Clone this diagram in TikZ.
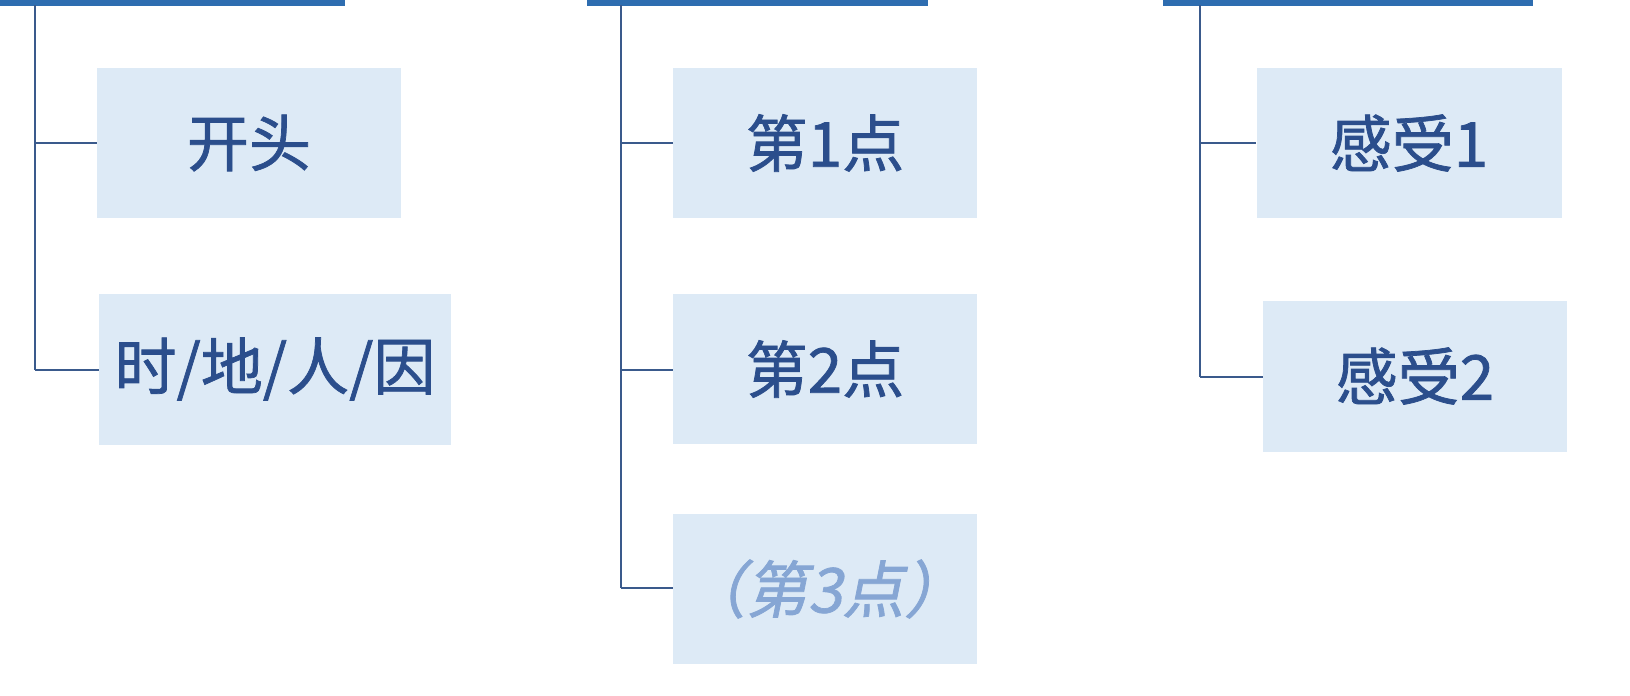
\documentclass[tikz,border=0pt]{standalone}
\usepackage{fontspec}
\newfontfamily\cjk[FakeBold=1.2]{Noto Sans CJK SC}
\newfontfamily\cjksl[FakeSlant=0.2,FakeBold=1.2]{Noto Sans CJK SC}
\definecolor{bar}{HTML}{2E6DB0}
\definecolor{boxf}{HTML}{DDEAF6}
\definecolor{txt}{HTML}{2B4E8C}
\definecolor{ln}{HTML}{3A5A8C}
\definecolor{lt}{HTML}{86A6D4}
\tikzset{
 bx/.style={fill=boxf,draw=none,inner sep=0pt,font=\cjk\fontsize{31}{34}\selectfont,text=txt},
 br/.style={draw=ln,line width=1.2pt},
 topbar/.style={draw=bar,line width=3.5pt}
}
\begin{document}
\begin{tikzpicture}[x=0.5pt,y=-0.5pt]
\useasboundingbox (0,0) rectangle (1630,696);
% top bars
\coordinate (b1l) at (0,2); \coordinate (b1r) at (345,2);
\coordinate (b2l) at (587,2); \coordinate (b2r) at (928,2);
\coordinate (b3l) at (1163,2); \coordinate (b3r) at (1533,2);
\draw[topbar] (b1l)--(b1r); \draw[topbar] (b2l)--(b2r); \draw[topbar] (b3l)--(b3r);
% boxes
\node[bx,minimum width=152pt,minimum height=75pt] (a1) at (249,143) {开头};
\node[bx,minimum width=176pt,minimum height=75.5pt] (a2) at (275,369) {时/地/人/因};
\node[bx,minimum width=152pt,minimum height=75pt] (m1) at (825,143) {第1点};
\node[bx,minimum width=152pt,minimum height=75pt] (m2) at (825,369) {第2点};
\node[bx,minimum width=152pt,minimum height=75pt,text=lt,font=\cjksl\fontsize{31}{34}\selectfont] (m3) at (825,589) {（第3点）};
\node[bx,minimum width=152.5pt,minimum height=75pt] (r1) at (1409,143) {感受1};
\node[bx,minimum width=152pt,minimum height=75.5pt] (r2) at (1415,376) {感受2};
% branch lines
\coordinate (t1) at (35,5); \coordinate (j1) at (35,143); \coordinate (j2) at (35,370);
\draw[br] (t1)--(j2);
\draw[br] (j1)--(a1.west|-j1); \draw[br] (j2)--(a2.west|-j2);
\coordinate (t2) at (621,5); \coordinate (k1) at (621,143); \coordinate (k2) at (621,370); \coordinate (k3) at (621,588);
\draw[br] (t2)--(k3);
\draw[br] (k1)--(m1.west|-k1); \draw[br] (k2)--(m2.west|-k2); \draw[br] (k3)--(m3.west|-k3);
\coordinate (t3) at (1200,5); \coordinate (l1) at (1200,143); \coordinate (l2) at (1200,377);
\draw[br] (t3)--(l2);
\draw[br] (l1)--(r1.west|-l1); \draw[br] (l2)--(r2.west|-l2);
\end{tikzpicture}
\end{document}
